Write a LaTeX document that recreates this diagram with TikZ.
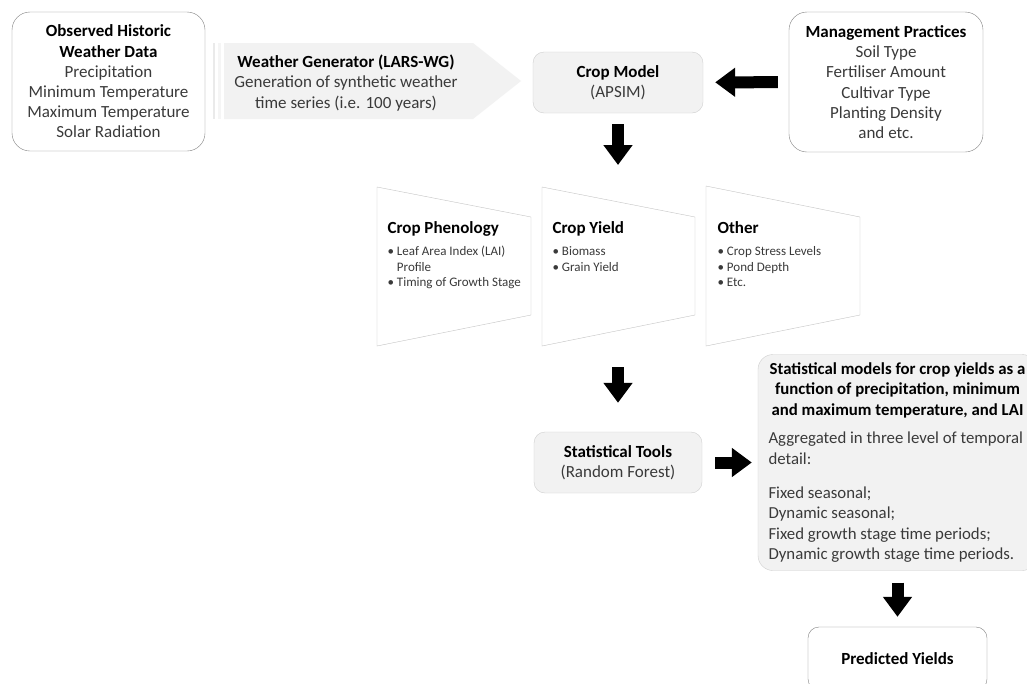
\documentclass[tikz,border=0pt]{standalone}
\usepackage{fontspec}
\setmainfont{Carlito}
\usetikzlibrary{arrows.meta}

\definecolor{boxline}{HTML}{808080}
\definecolor{greyline}{HTML}{CFCFCF}
\definecolor{greyfill}{HTML}{F2F2F2}
\definecolor{trapline}{HTML}{C4C4C4}
\definecolor{bodytext}{HTML}{3A3A3A}

\newcommand{\hd}[1]{\textcolor{black}{\bfseries #1}}
\newcommand{\hdbig}[1]{\textcolor{black}{\fontsize{17}{20}\selectfont\bfseries #1}}
\newcommand{\wideline}[1]{\makebox[258pt]{\hd{#1}}}

\tikzset{
  mainfont/.style={font=\fontsize{17}{20.2}\selectfont},
  whitebox/.style={draw=boxline, rounded corners=18pt, fill=white, align=center, text=bodytext, mainfont},
  greybox/.style={draw=greyline, rounded corners=11pt, fill=greyfill, align=center, text=bodytext, mainfont},
  listtext/.style={anchor=north west, align=left, text=bodytext, font=\fontsize{13}{15.5}\selectfont},
  blockarrow/.style={draw=black, line width=12pt, -{Triangle[length=20pt,width=28pt]}},
}

\begin{document}
\begin{tikzpicture}[x=1pt, y=-1pt]
                \clip (0,0) rectangle (1027,683);
                \fill[white] (0,0) rectangle (1027,683);

                % Weather generator arrow shape
                \fill[greyfill] (224,43) -- (473,43) -- (521,81) -- (473,119) -- (224,119) -- cycle;
                \fill[greyfill!80!gray!60] (212.5,43) rectangle (214.5,119);
                \fill[greyfill!90!gray!40] (218,43) rectangle (221,119);

                % Output trapezoids
                \draw[trapline] (377,187) -- (531,217) -- (531,315) -- (377,346) -- cycle;
                \draw[trapline] (542,187) -- (695,217) -- (695,315) -- (542,346) -- cycle;
                \draw[trapline] (706,186) -- (860,217) -- (860,315) -- (706,346) -- cycle;
                \coordinate (ytop) at (618,202);
                \coordinate (ybot) at (618,331);

                % Nodes
                \node[whitebox, minimum width=193pt, minimum height=139pt] (obs) at (108.5,81.5)
                  {\hd{Observed Historic}\\\hd{Weather Data}\\Precipitation\\Minimum Temperature\\Maximum Temperature\\Solar Radiation};
                \node[align=center, text=bodytext, mainfont] (gen) at (346,83)
                  {\hd{Weather Generator (LARS-WG)}\\Generation of synthetic weather\\time series (i.e. 100 years)};
                \node[greybox, minimum width=170pt, minimum height=61pt] (crop) at (618,82.5)
                  {\hd{Crop Model}\\(APSIM)};
                \node[whitebox, minimum width=194pt, minimum height=140pt] (mgmt) at (886,82)
                  {\hd{Management Practices}\\Soil Type\\Fertiliser Amount\\Cultivar Type\\Planting Density\\and etc.};

                \node[listtext] (phen) at (384,218)
                  {\hdbig{Crop Phenology}\\[7pt]
                   \textbullet\ Leaf Area Index (LAI)\\\hphantom{\textbullet\ }Profile\\\textbullet\ Timing of Growth Stage};
                \node[listtext] (yield) at (549,218)
                  {\hdbig{Crop Yield}\\[7pt]
                   \textbullet\ Biomass\\\textbullet\ Grain Yield};
                \node[listtext] (other) at (714,218)
                  {\hdbig{Other}\\[7pt]
                   \textbullet\ Crop Stress Levels\\\textbullet\ Pond Depth\\\textbullet\ Etc.};

                \node[greybox, minimum width=168pt, minimum height=61pt] (tools) at (618,462.5)
                  {\hd{Statistical Tools}\\(Random Forest)};
                \node[greybox, rounded corners=15pt, minimum width=279pt, minimum height=216pt,
                      align=left, font=\fontsize{16.8}{20.6}\selectfont] (models) at (897.5,462.5)
                  {\wideline{Statistical models for crop yields as a}\\\wideline{function of precipitation, minimum}\\\wideline{and maximum temperature, and LAI}\\[8pt]
                   Aggregated in three level of temporal\\detail:\\[13pt]
                   Fixed seasonal;\\Dynamic seasonal;\\Fixed growth stage time periods;\\Dynamic growth stage time periods.};
                \node[whitebox, rounded corners=11pt, minimum width=179pt, minimum height=63pt] (pred) at (897.5,658.5)
                  {\hd{Predicted Yields}};

                % Edges
                \draw[blockarrow, shorten <=11pt, shorten >=12pt] (mgmt) -- (crop);
                \draw[blockarrow, shorten <=11pt, shorten >=37pt] (crop) -- (ytop);
                \draw[blockarrow, shorten <=36pt, shorten >=29pt] (ybot) -- (tools);
                \draw[blockarrow, shorten <=13pt, shorten >=6pt] (tools) -- (models);
                \draw[blockarrow, shorten <=12pt, shorten >=10pt] (models) -- (pred);
\end{tikzpicture}
\end{document}
